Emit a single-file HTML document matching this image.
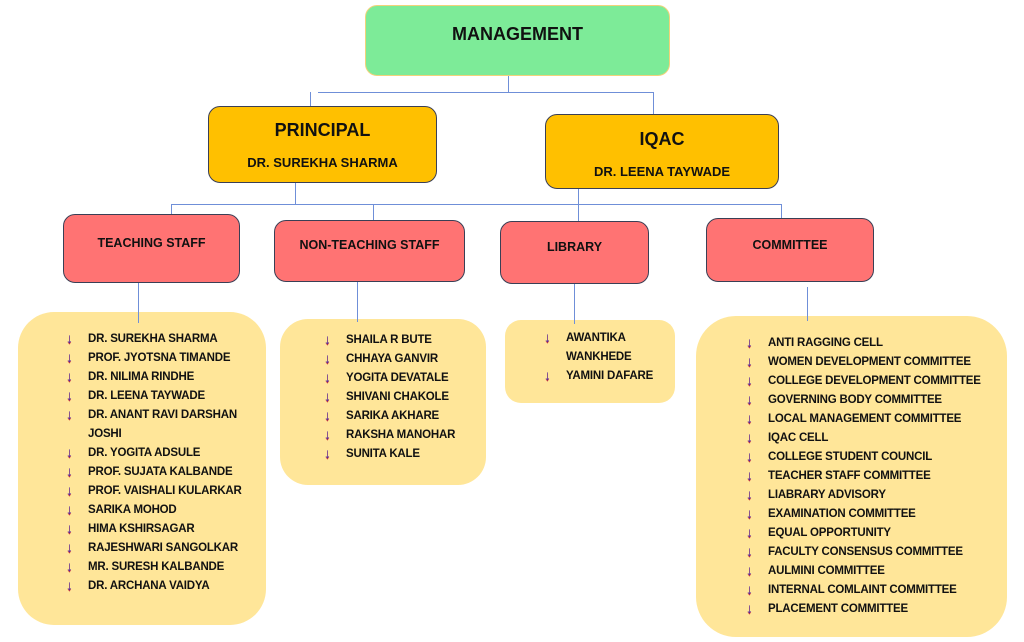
<!DOCTYPE html>
<html><head><meta charset="utf-8"><style>
body{margin:0;width:1024px;height:642px;background:#fff;position:relative;overflow:hidden;font-family:"Liberation Sans",sans-serif;font-weight:bold;color:#111}
.b{position:absolute;box-sizing:border-box;border-radius:12px;border:1.5px solid #3a3f55}
.t{position:absolute;white-space:nowrap;text-align:center}
.l{position:absolute;background:#6f8fd8}
.p{position:absolute;background:#ffe699;border-radius:36px}
.i{position:absolute;font-size:11.5px;white-space:nowrap;letter-spacing:-0.2px}
.i span{position:absolute;left:-22px;top:-3px;color:#4a2aa8;font-size:14px;font-weight:bold;text-shadow:0 1px 0 #d03030}
</style></head><body>
<div class="b" style="left:365px;top:5px;width:305px;height:71px;background:#7deb98;border-color:#f2d27a"></div>
<div class="t" style="left:365px;width:305px;top:24px;font-size:18px">MANAGEMENT</div>
<div class="l" style="left:508px;top:76px;width:1px;height:16px"></div>
<div class="l" style="left:318px;top:92px;width:336px;height:1px"></div>
<div class="l" style="left:310px;top:92px;width:1px;height:14px"></div>
<div class="l" style="left:653px;top:92px;width:1px;height:22px"></div>

<div class="b" style="left:208px;top:106px;width:229px;height:77px;background:#ffc000"></div>
<div class="t" style="left:208px;width:229px;top:120px;font-size:18px">PRINCIPAL</div>
<div class="t" style="left:208px;width:229px;top:155px;font-size:13px">DR. SUREKHA SHARMA</div>
<div class="b" style="left:545px;top:114px;width:234px;height:75px;background:#ffc000"></div>
<div class="t" style="left:545px;width:234px;top:129px;font-size:18px">IQAC</div>
<div class="t" style="left:545px;width:234px;top:164px;font-size:13px">DR. LEENA TAYWADE</div>

<div class="l" style="left:295px;top:183px;width:1px;height:22px"></div>
<div class="l" style="left:578px;top:189px;width:1px;height:32px"></div>
<div class="l" style="left:171px;top:204px;width:611px;height:1px"></div>
<div class="l" style="left:171px;top:204px;width:1px;height:10px"></div>
<div class="l" style="left:373px;top:204px;width:1px;height:16px"></div>
<div class="l" style="left:781px;top:204px;width:1px;height:14px"></div>

<div class="b" style="left:63px;top:214px;width:177px;height:69px;background:#ff7373"></div>
<div class="t" style="left:63px;width:177px;top:236px;font-size:12.5px">TEACHING STAFF</div>
<div class="b" style="left:274px;top:220px;width:191px;height:62px;background:#ff7373"></div>
<div class="t" style="left:274px;width:191px;top:238px;font-size:12.5px">NON-TEACHING STAFF</div>
<div class="b" style="left:500px;top:221px;width:149px;height:63px;background:#ff7373"></div>
<div class="t" style="left:500px;width:149px;top:240px;font-size:12.5px">LIBRARY</div>
<div class="b" style="left:706px;top:218px;width:168px;height:64px;background:#ff7373"></div>
<div class="t" style="left:706px;width:168px;top:238px;font-size:12.5px">COMMITTEE</div>

<div class="p" style="left:18px;top:312px;width:248px;height:313px"></div>
<div class="p" style="left:280px;top:319px;width:206px;height:166px;border-radius:28px"></div>
<div class="p" style="left:505px;top:320px;width:170px;height:83px;border-radius:16px"></div>
<div class="p" style="left:696px;top:316px;width:311px;height:321px;border-radius:40px"></div>
<div class="l" style="left:138px;top:283px;width:1px;height:40px"></div>
<div class="l" style="left:357px;top:282px;width:1px;height:40px"></div>
<div class="l" style="left:574px;top:284px;width:1px;height:40px"></div>
<div class="l" style="left:807px;top:287px;width:1px;height:34px"></div>

<div style="position:absolute;left:88px;top:333px">
<div class="i" style="top:0"><span>↓</span>DR. SUREKHA SHARMA</div>
<div class="i" style="top:19px"><span>↓</span>PROF. JYOTSNA TIMANDE</div>
<div class="i" style="top:38px"><span>↓</span>DR. NILIMA RINDHE</div>
<div class="i" style="top:57px"><span>↓</span>DR. LEENA TAYWADE</div>
<div class="i" style="top:76px"><span>↓</span>DR. ANANT RAVI DARSHAN</div>
<div class="i" style="top:95px">JOSHI</div>
<div class="i" style="top:114px"><span>↓</span>DR. YOGITA ADSULE</div>
<div class="i" style="top:133px"><span>↓</span>PROF. SUJATA KALBANDE</div>
<div class="i" style="top:152px"><span>↓</span>PROF. VAISHALI KULARKAR</div>
<div class="i" style="top:171px"><span>↓</span>SARIKA MOHOD</div>
<div class="i" style="top:190px"><span>↓</span>HIMA KSHIRSAGAR</div>
<div class="i" style="top:209px"><span>↓</span>RAJESHWARI SANGOLKAR</div>
<div class="i" style="top:228px"><span>↓</span>MR. SURESH KALBANDE</div>
<div class="i" style="top:247px"><span>↓</span>DR. ARCHANA VAIDYA</div>
</div>
<div style="position:absolute;left:346px;top:334px">
<div class="i" style="top:0"><span>↓</span>SHAILA R BUTE</div>
<div class="i" style="top:19px"><span>↓</span>CHHAYA GANVIR</div>
<div class="i" style="top:38px"><span>↓</span>YOGITA DEVATALE</div>
<div class="i" style="top:57px"><span>↓</span>SHIVANI CHAKOLE</div>
<div class="i" style="top:76px"><span>↓</span>SARIKA AKHARE</div>
<div class="i" style="top:95px"><span>↓</span>RAKSHA MANOHAR</div>
<div class="i" style="top:114px"><span>↓</span>SUNITA KALE</div>
</div>
<div style="position:absolute;left:566px;top:332px">
<div class="i" style="top:0"><span>↓</span>AWANTIKA</div>
<div class="i" style="top:19px">WANKHEDE</div>
<div class="i" style="top:38px"><span>↓</span>YAMINI DAFARE</div>
</div>
<div style="position:absolute;left:768px;top:337px">
<div class="i" style="top:0"><span>↓</span>ANTI RAGGING CELL</div>
<div class="i" style="top:19px"><span>↓</span>WOMEN DEVELOPMENT COMMITTEE</div>
<div class="i" style="top:38px"><span>↓</span>COLLEGE DEVELOPMENT COMMITTEE</div>
<div class="i" style="top:57px"><span>↓</span>GOVERNING BODY COMMITTEE</div>
<div class="i" style="top:76px"><span>↓</span>LOCAL MANAGEMENT COMMITTEE</div>
<div class="i" style="top:95px"><span>↓</span>IQAC CELL</div>
<div class="i" style="top:114px"><span>↓</span>COLLEGE STUDENT COUNCIL</div>
<div class="i" style="top:133px"><span>↓</span>TEACHER STAFF COMMITTEE</div>
<div class="i" style="top:152px"><span>↓</span>LIABRARY ADVISORY</div>
<div class="i" style="top:171px"><span>↓</span>EXAMINATION COMMITTEE</div>
<div class="i" style="top:190px"><span>↓</span>EQUAL OPPORTUNITY</div>
<div class="i" style="top:209px"><span>↓</span>FACULTY CONSENSUS COMMITTEE</div>
<div class="i" style="top:228px"><span>↓</span>AULMINI COMMITTEE</div>
<div class="i" style="top:247px"><span>↓</span>INTERNAL COMLAINT COMMITTEE</div>
<div class="i" style="top:266px"><span>↓</span>PLACEMENT COMMITTEE</div>
</div>
</body></html>
